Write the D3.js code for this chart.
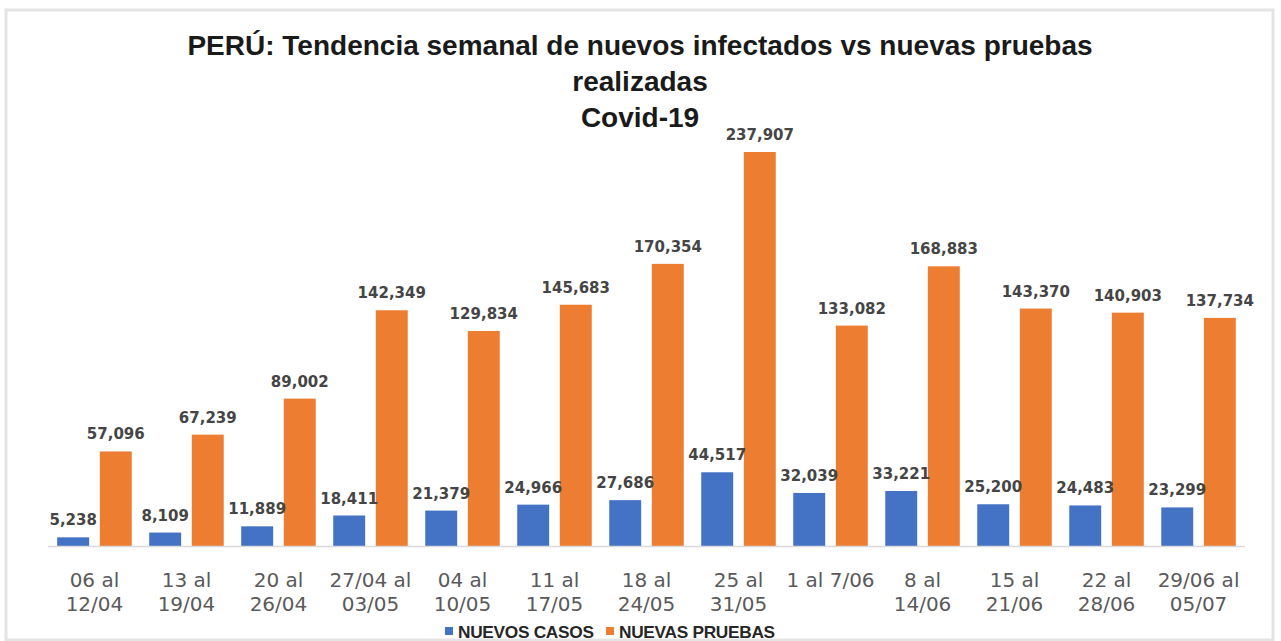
<!DOCTYPE html>
<html>
<head>
<meta charset="utf-8">
<script src="https://cdn.jsdelivr.net/npm/d3@7"></script>
<style>
  body { margin: 0; background: #fff; }
  svg { display: block; }
  .title { font-family: "Liberation Sans", Arial, sans-serif; font-weight: bold; font-size: 28px; fill: #1a1a1a; }
  .val { font-family: "DejaVu Sans", sans-serif; font-weight: bold; font-size: 15px; fill: #454545; }
  .xlab { font-family: "DejaVu Sans", sans-serif; font-size: 20px; fill: #5a5a5a; }
  .leg { font-family: "Liberation Sans", Arial, sans-serif; font-weight: bold; font-size: 17.3px; fill: #262626; letter-spacing: -0.3px; }
</style>
</head>
<body>
<script>
// weekly data
var weeks = ["06 al|12/04", "13 al|19/04", "20 al|26/04", "27/04 al|03/05", "04 al|10/05",
  "11 al|17/05", "18 al|24/05", "25 al|31/05", "1 al 7/06", "8 al|14/06",
  "15 al|21/06", "22 al|28/06", "29/06 al|05/07"];
var nuevosCasos = [5238, 8109, 11889, 18411, 21379, 24966, 27686, 44517, 32039, 33221, 25200, 24483, 23299];
var nuevasPruebas = [57096, 67239, 89002, 142349, 129834, 145683, 170354, 237907, 133082, 168883, 143370, 140903, 137734];
var seriesNames = ["NUEVOS CASOS", "NUEVAS PRUEBAS"];
var colors = ["#4472c4", "#ed7d31"];
var titleLines = ["PERÚ: Tendencia semanal de nuevos infectados vs nuevas pruebas", "realizadas", "Covid-19"];

var width = 1281, height = 641;
var svg = d3.select("body").append("svg").attr("width", width).attr("height", height);

// frame
svg.append("rect").attr("x", 6).attr("y", 10).attr("width", 1267).attr("height", 630)
  .attr("fill", "#fff").attr("stroke", "#e4e4e4").attr("stroke-width", 3);

svg.selectAll(".title").data(titleLines).enter().append("text")
  .attr("class", "title").attr("x", 640).attr("y", function(d, i) { return 55 + i * 36; })
  .attr("text-anchor", "middle").text(function(d) { return d; });

var x0 = d3.scaleBand().domain(weeks).range([48, 1245]).paddingInner(0.19).paddingOuter(0.1);
var x1 = d3.scaleBand().domain(seriesNames).range([0, x0.bandwidth()]).paddingInner(0.25);
var y = d3.scaleLinear().domain([0, d3.max(nuevasPruebas)]).range([546, 152]);

var rows = weeks.map(function(w, i) {
  return { week: w, vals: [
    { s: seriesNames[0], v: nuevosCasos[i], c: colors[0] },
    { s: seriesNames[1], v: nuevasPruebas[i], c: colors[1] }] };
});

var g = svg.selectAll(".grp").data(rows).enter().append("g")
  .attr("transform", function(d) { return "translate(" + x0(d.week) + ",0)"; });

g.selectAll("rect").data(function(d) { return d.vals; }).enter().append("rect")
  .attr("x", function(d) { return x1(d.s); })
  .attr("y", function(d) { return y(d.v); })
  .attr("width", x1.bandwidth())
  .attr("height", function(d) { return y(0) - y(d.v); })
  .attr("fill", function(d) { return d.c; });

// axis line
svg.append("line").attr("x1", 48).attr("x2", 1245).attr("y1", 546.5).attr("y2", 546.5)
  .attr("stroke", "#d9d9d9").attr("stroke-width", 1.5);

var fmt = d3.format(",");
g.selectAll(".val").data(function(d) { return d.vals; }).enter().append("text")
  .attr("class", "val")
  .attr("x", function(d) { return x1(d.s) + x1.bandwidth() / 2; })
  .attr("y", function(d) { return y(d.v) - 12; })
  .attr("text-anchor", "middle")
  .text(function(d) { return fmt(d.v); });

// x labels
weeks.forEach(function(w) {
  var t = svg.append("text").attr("class", "xlab").attr("text-anchor", "middle")
    .attr("x", x0(w) + x0.bandwidth() / 2).attr("y", 587);
  w.split("|").forEach(function(part, i) {
    t.append("tspan").attr("x", x0(w) + x0.bandwidth() / 2).attr("dy", i ? 24 : 0).text(part);
  });
});

// legend
var legX = [445, 606];
seriesNames.forEach(function(s, i) {
  svg.append("rect").attr("x", legX[i]).attr("y", 627).attr("width", 8).attr("height", 8).attr("fill", colors[i]);
  svg.append("text").attr("class", "leg").attr("x", legX[i] + 13).attr("y", 637.5).text(s);
});
</script>
</body>
</html>
